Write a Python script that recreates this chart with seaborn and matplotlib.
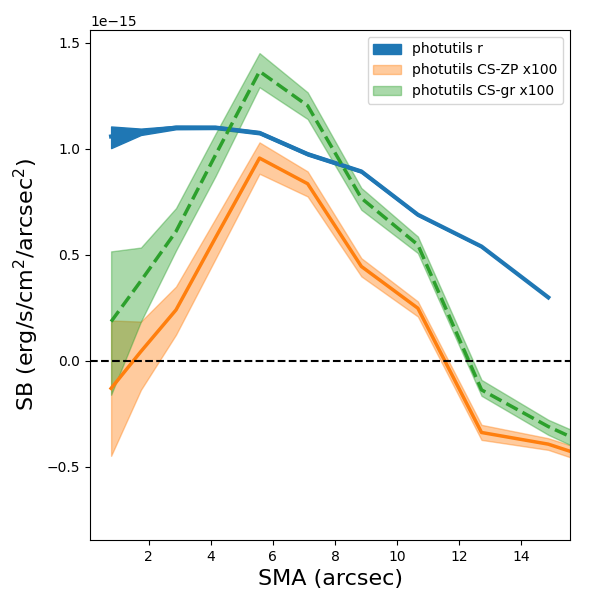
import numpy as np
import seaborn as sns
import matplotlib
matplotlib.use("Agg")
import matplotlib.pyplot as plt

# surface brightness profiles, values in units of 1e-15 erg/s/cm^2/arcsec^2
sma_r = [0.79, 1.75, 2.88, 4.15, 5.57, 7.12, 8.85, 10.67, 12.72, 14.87]
sb_r = [1.058, 1.08, 1.10, 1.10, 1.075, 0.975, 0.893, 0.689, 0.539, 0.299]
sb_r_hi = [1.105, 1.095, 1.108, 1.107, 1.082, 0.982, 0.899, 0.694, 0.543, 0.302]
sb_r_lo = [1.003, 1.065, 1.092, 1.093, 1.068, 0.968, 0.887, 0.684, 0.535, 0.296]

sma_cs = [0.79, 1.75, 2.88, 4.15, 5.57, 7.12, 8.85, 10.67, 12.72, 14.87, 17.1]
sb_zp = [-0.13, 0.044, 0.24, 0.58, 0.956, 0.835, 0.445, 0.248, -0.338, -0.393, -0.50]
sb_zp_hi = [0.19, 0.185, 0.35, 0.67, 1.03, 0.893, 0.484, 0.28, -0.302, -0.365, -0.47]
sb_zp_lo = [-0.448, -0.137, 0.123, 0.48, 0.882, 0.775, 0.398, 0.209, -0.373, -0.42, -0.53]

sb_gr = [0.185, 0.377, 0.61, 0.97, 1.365, 1.203, 0.767, 0.547, -0.137, -0.31, -0.46]
sb_gr_hi = [0.516, 0.534, 0.72, 1.07, 1.451, 1.266, 0.815, 0.586, -0.09, -0.278, -0.42]
sb_gr_lo = [-0.16, 0.185, 0.52, 0.87, 1.29, 1.14, 0.712, 0.508, -0.165, -0.349, -0.50]

scale = 1e-15

fig, ax = plt.subplots(figsize=(6, 6), dpi=100)
fig.subplots_adjust(left=0.15, right=0.95, bottom=0.10, top=0.95)

ax.fill_between(sma_r, np.array(sb_r_lo) * scale, np.array(sb_r_hi) * scale,
                color='C0', label='photutils r')
sns.lineplot(x=sma_r, y=np.array(sb_r) * scale, ax=ax, color='C0', lw=3)

ax.fill_between(sma_cs, np.array(sb_zp_lo) * scale, np.array(sb_zp_hi) * scale,
                color='C1', alpha=0.4, label='photutils CS-ZP x100')
sns.lineplot(x=sma_cs, y=np.array(sb_zp) * scale, ax=ax, color='C1', lw=2.5)

ax.fill_between(sma_cs, np.array(sb_gr_lo) * scale, np.array(sb_gr_hi) * scale,
                color='C2', alpha=0.4, label='photutils CS-gr x100')
sns.lineplot(x=sma_cs, y=np.array(sb_gr) * scale, ax=ax, color='C2', lw=2.5, linestyle='--')

ax.axhline(0, color='k', ls='--', lw=1.5)

ax.set_xlim(0.11, 15.57)
ax.set_ylim(-0.845e-15, 1.56e-15)
ax.set_xlabel('SMA (arcsec)', fontsize=16)
ax.set_ylabel('SB (erg/s/cm$^2$/arcsec$^2$)', fontsize=16)
ax.legend(loc='upper right')

plt.savefig('out.png')
